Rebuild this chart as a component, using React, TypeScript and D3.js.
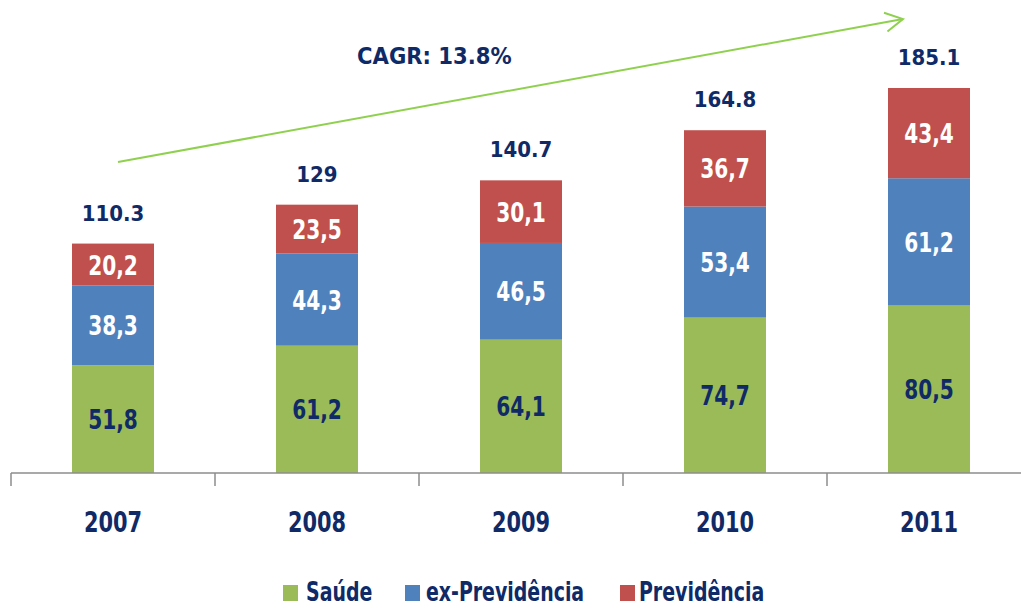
import React from "react";
import * as d3 from "d3";

const years = ["2007", "2008", "2009", "2010", "2011"];
const saude = [51.8, 61.2, 64.1, 74.7, 80.5];
const exPrev = [38.3, 44.3, 46.5, 53.4, 61.2];
const prev = [20.2, 23.5, 30.1, 36.7, 43.4];
const totals = ["110.3", "129", "140.7", "164.8", "185.1"];
const seriesNames = ["Saúde", "ex-Previdência", "Previdência"];
const cagrText = "CAGR: 13.8%";

const W = 1021;
const H = 609;
const NAVY = "#0f2a66";
const COLORS = ["#9bbb59", "#4f81bd", "#c0504d"];
const LABEL_COLORS = [NAVY, "#ffffff", "#ffffff"];
const FONT = "'DejaVu Sans Condensed', 'DejaVu Sans', sans-serif";
const SX = 0.83;

function CText(props: { x: number; y: number; size: number; fill: string; anchor?: string; sx?: number; children: any }) {
  const { x, y, size, fill, anchor = "middle", sx = SX, children } = props;
  return (
    <text
      transform={`translate(${x},${y}) scale(${sx},1)`}
      textAnchor={anchor as any}
      fontSize={size}
      fontWeight="bold"
      fill={fill}
    >
      {children}
    </text>
  );
}

export default function App() {
  const x = d3.scaleBand<string>().domain(years).range([11, 11 + 204 * 5]).paddingInner(0).paddingOuter(0);
  const y = d3.scaleLinear().domain([0, 100]).range([473, 473 - 208]);
  const barW = 82;
  const rows = years.map((yr, i) => ({ year: yr, saude: saude[i], exPrev: exPrev[i], prev: prev[i] }));
  const stack = d3.stack<any>().keys(["saude", "exPrev", "prev"])(rows);
  const fmt = (v: number) => v.toFixed(1).replace(".", ",");
  const cx = (yr: string) => (x(yr) as number) + x.bandwidth() / 2;

  const arrowStart: [number, number] = [118, 162];
  const arrowEnd: [number, number] = [903, 19];
  const ang = Math.atan2(arrowEnd[1] - arrowStart[1], arrowEnd[0] - arrowStart[0]);
  const headLen = 20;
  const h1 = [arrowEnd[0] - headLen * Math.cos(ang - 0.5), arrowEnd[1] - headLen * Math.sin(ang - 0.5)];
  const h2 = [arrowEnd[0] - headLen * Math.cos(ang + 0.5), arrowEnd[1] - headLen * Math.sin(ang + 0.5)];

  const legendItems = [
    { sq: 283, tx: 306 },
    { sq: 405, tx: 426 },
    { sq: 620, tx: 639 },
  ];

  return (
    <svg width={W} height={H} style={{ position: "absolute", left: 0, top: 0, background: "#fff" }} fontFamily={FONT}>
      {stack.map((layer, si) =>
        layer.map((d, i) => {
          const yr = years[i];
          const top = y(d[1]);
          const bot = y(d[0]);
          return (
            <g key={`${si}-${i}`}>
              <rect x={cx(yr) - barW / 2} y={top} width={barW} height={bot - top} fill={COLORS[si]} />
              <CText x={cx(yr)} y={(top + bot) / 2 + 10} size={27} fill={LABEL_COLORS[si]}>
                {fmt(d[1] - d[0])}
              </CText>
            </g>
          );
        })
      )}
      {years.map((yr, i) => {
        const t = saude[i] + exPrev[i] + prev[i];
        return (
          <text key={yr} x={cx(yr)} y={y(t) - 23} textAnchor="middle" fontSize={22} fontWeight="bold" fill={NAVY}>
            {totals[i]}
          </text>
        );
      })}
      <line x1={11} x2={W} y1={473} y2={473} stroke="#8c8c8c" strokeWidth={1.5} />
      {d3.range(years.length + 1).map((k) => (
        <line key={k} x1={11 + 204 * k} x2={11 + 204 * k} y1={473} y2={486} stroke="#8c8c8c" strokeWidth={1.5} />
      ))}
      {years.map((yr) => (
        <CText key={yr} x={cx(yr)} y={532} size={28} fill={NAVY}>
          {yr}
        </CText>
      ))}
      <line x1={arrowStart[0]} y1={arrowStart[1]} x2={arrowEnd[0]} y2={arrowEnd[1]} stroke="#8fd14f" strokeWidth={2} />
      <polyline
        points={`${h1[0]},${h1[1]} ${arrowEnd[0]},${arrowEnd[1]} ${h2[0]},${h2[1]}`}
        fill="none"
        stroke="#8fd14f"
        strokeWidth={2}
      />
      <text x={357} y={64} fontSize={23.5} fontWeight="bold" fill={NAVY}>
        {cagrText}
      </text>
      {seriesNames.map((n, i) => (
        <g key={n}>
          <rect x={legendItems[i].sq} y={585} width={15} height={16} fill={COLORS[i]} />
          <CText x={legendItems[i].tx} y={601} size={26} sx={0.81} fill={NAVY} anchor="start">
            {n}
          </CText>
        </g>
      ))}
    </svg>
  );
}
